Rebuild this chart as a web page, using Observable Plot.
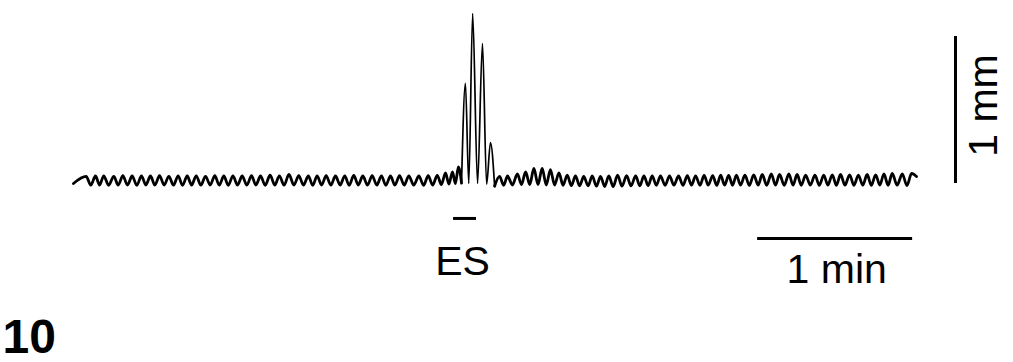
<!DOCTYPE html>
<html>
<head>
<meta charset="utf-8">
<script src="https://cdn.jsdelivr.net/npm/d3@7"></script>
<script src="https://cdn.jsdelivr.net/npm/@observablehq/plot@0.6"></script>
<style>
  html, body { margin: 0; padding: 0; background: #fff; }
  #chart svg { display: block; }
</style>
</head>
<body>
<div id="chart"></div>
<script>
// Trace: time (s) and displacement (µm), read from the recording
const traceT = [
  0, 4.9, 6.7, 8.5, 10.1, 11.7, 13.6, 15.6, 17.3, 19.1, 20.9, 22.7, 24.5, 26.3, 28.0, 29.8, 31.5, 33.3, 35.1, 36.9, 38.7,
  40.5, 42.2, 44.0, 45.7, 47.5, 49.3, 51.1, 52.9, 54.7, 56.4, 58.2, 59.9, 61.7, 63.5, 65.3, 67.1, 68.9, 70.6, 72.4, 74.2,
  76.1, 77.9, 79.7, 81.5, 83.4, 85.3, 87.2, 89.0, 90.9, 92.6, 94.3, 96.0, 97.8, 99.6, 101.4, 103.2, 105.0, 106.7, 108.5,
  110.2, 112.0, 113.8, 115.6, 117.4, 119.2, 120.9, 122.7, 124.4, 126.2, 128.0, 129.8, 131.7, 133.7, 135.5, 137.3, 139.0,
  140.8, 142.4, 144.0, 145.3, 146.7, 147.8, 149.0, 150.2, 151.7, 153.0, 154.5, 156.4, 158.3, 159.9, 161.4, 163.0,
  164.9, 166.5, 168.0, 169.9, 171.8, 173.4, 175.0, 176.6, 178.2, 179.8, 181.4, 183.0, 184.6, 186.2, 187.9, 189.5,
  191.1, 192.7, 194.3, 195.9, 197.5, 199.2, 200.8, 202.4, 204.0, 205.6, 207.2, 208.9, 210.6, 212.3, 214.1, 215.8,
  217.6, 219.2, 220.8, 222.4, 224.0, 225.6, 227.2, 229.0, 230.7, 232.4, 234.2, 235.9, 237.6, 239.2, 240.8, 242.5,
  244.1, 245.7, 247.4, 249.0, 250.5, 252.0, 253.6, 255.1, 256.6, 258.2, 259.9, 261.6, 263.3, 265.0, 266.6, 268.3,
  270.1, 271.7, 273.3, 275.1, 276.9, 278.5, 280.1, 281.7, 283.4, 285.2, 287.0, 288.7, 290.4, 292.0, 293.7, 295.3,
  296.9, 298.6, 300.4, 302.1, 303.8, 305.5, 307.2, 308.8, 310.5, 312.1, 313.7, 315.3, 316.9, 318.8, 320.8, 322.6,
  324.4, 326.3
];
const traceV = [
  -20, 27, -31, 30, -30, 31, -32, 28, -31, 32, -30, 30, -32, 31, -30, 30, -31, 32, -30, 28, -31,
  31, -32, 30, -30, 31, -31, 28, -30, 32, -31, 30, -32, 31, -30, 30, -31, 32, -30, 30, -32,
  35, -30, 31, -31, 40, -30, 32, -31, 30, -32, 31, -30, 32, -31, 30, -30, 31, -32, 34,
  -30, 30, -31, 32, -30, 31, -32, 30, -31, 32, -30, 31, -31, 30, -32, 32, -30,
  34, -27, 50, -24, 58, -20, 90, -18, 647, -20, 1113, -20, 913, -24, 253, -38,
  27, -32, 30, -30, 44, -27, 58, -27, 80, -27, 80, -30, 72, -30, 50, -32,
  36, -34, 30, -35, 27, -36, 30, -38, 27, -40, 30, -40, 36, -38, 32, -36,
  30, -35, 31, -34, 30, -32, 30, -32, 31, -31, 30, -32, 32, -31, 31, -32,
  34, -31, 32, -32, 35, -31, 34, -32, 36, -31, 35, -32, 38, -31, 40, -32,
  44, -31, 40, -32, 44, -31, 40, -32, 36, -31, 35, -32, 36, -31, 38, -32,
  40, -31, 38, -32, 36, -31, 40, -32, 38, -31, 44, -32, 47, -31, 44, -34,
  47, 27
];

// Fast pen excursions (electrical stimulation response) are drawn with a finer line
const spikeStartT = 150.2;
const spikeEndT = 163.0;

// Annotations (time in s, displacement in µm)
const esBarT = [147.1, 156.0];
const esBarV = -253;
const esLabel = "ES";
const esLabelT = 150.6;
const esLabelV = -633;

const minBarT = [264.8, 324.8];   // 60 s = 1 min
const minBarV = -387;
const minLabel = "1 min";
const minLabelT = 295.4;
const minLabelV = -680;

const mmBarT = 341.4;
const mmBarV = [-20, 960];        // ~1 mm
const mmLabel = "1 mm";
const mmLabelT = 352.5;
const mmLabelV = 500;

const figLabel = "10";
const figLabelT = -27.5;
const figLabelV = -1147;

const trace = traceT.map((t, i) => ({t, v: traceV[i]}));
const slow1 = trace.filter(d => d.t <= spikeStartT);
const fast = trace.filter(d => d.t >= spikeStartT && d.t <= spikeEndT);
const slow2 = trace.filter(d => d.t >= spikeEndT);
const font = "'Liberation Sans', Arial, Helvetica, sans-serif";

const chart = Plot.plot({
  width: 1013,
  height: 362,
  marginLeft: 73,
  marginRight: 97,
  marginTop: 0,
  marginBottom: 0,
  style: {background: "#fff", fontFamily: font},
  x: {axis: null, domain: [0, 326.3]},
  y: {axis: null, domain: [-1213.3, 1200]},
  marks: [
    Plot.line(slow1, {x: "t", y: "v", curve: "monotone-x", stroke: "#000", strokeWidth: 2.8, strokeLinejoin: "round"}),
    Plot.line(fast, {x: "t", y: "v", curve: "monotone-x", stroke: "#000", strokeWidth: 1.7, strokeLinejoin: "round"}),
    Plot.line(slow2, {x: "t", y: "v", curve: "monotone-x", stroke: "#000", strokeWidth: 2.8, strokeLinejoin: "round"}),
    Plot.ruleY([esBarV], {x1: esBarT[0], x2: esBarT[1], stroke: "#000", strokeWidth: 3}),
    Plot.text([esLabel], {x: esLabelT, y: esLabelV, text: d => d, fontSize: 41, textAnchor: "middle", lineAnchor: "bottom", fill: "#000", fontFamily: font}),
    Plot.ruleY([minBarV], {x1: minBarT[0], x2: minBarT[1], stroke: "#000", strokeWidth: 3}),
    Plot.text([minLabel], {x: minLabelT, y: minLabelV, text: d => d, fontSize: 41, textAnchor: "middle", lineAnchor: "bottom", fill: "#000", fontFamily: font}),
    Plot.ruleX([mmBarT], {y1: mmBarV[0], y2: mmBarV[1], stroke: "#000", strokeWidth: 3}),
    Plot.text([mmLabel], {x: mmLabelT, y: mmLabelV, text: d => d, fontSize: 41, rotate: -90, textAnchor: "middle", lineAnchor: "middle", fill: "#000", fontFamily: font}),
    Plot.text([figLabel], {x: figLabelT, y: figLabelV, text: d => d, fontSize: 48, fontWeight: "bold", textAnchor: "start", lineAnchor: "bottom", fill: "#000", fontFamily: font})
  ]
});
document.getElementById("chart").append(chart);
</script>
</body>
</html>
